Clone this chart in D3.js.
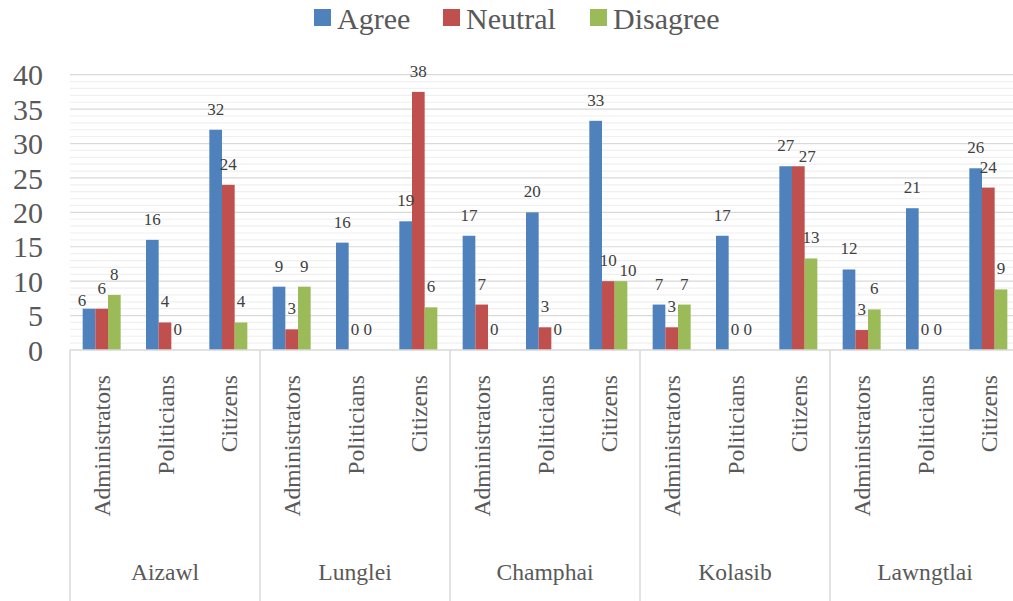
<!DOCTYPE html>
<html>
<head>
<meta charset="utf-8">
<script src="https://cdn.jsdelivr.net/npm/d3@7"></script>
<style>
  html, body { margin: 0; padding: 0; background: #fff; }
  #chart, #chart text { font-family: "Liberation Serif", monospace !important; }
</style>
</head>
<body>
<svg id="chart" width="1013" height="601" font-family="Liberation Serif"></svg>
<script>
// Districts (outer category level) and respondent groups (inner level)
const districts = ["Aizawl", "Lunglei", "Champhai", "Kolasib", "Lawngtlai"];
const respondents = ["Administrators", "Politicians", "Citizens"];
const seriesNames = ["Agree", "Neutral", "Disagree"];
const seriesColors = ["#4f81bd", "#c0504d", "#9bbb59"];

// Values in district order, each district listing Administrators, Politicians, Citizens
const agree    = [6, 16, 32,   9.2, 15.6, 18.7,  16.6, 20, 33.3,  6.6, 16.6, 26.7,  11.7, 20.6, 26.4];
const neutral  = [6, 4, 24,    3, 0, 37.5,       6.6, 3.3, 10,    3.3, 0, 26.7,     2.9, 0, 23.6];
const disagree = [8, 0, 4,     9.2, 0, 6.2,      0, 0, 10,        6.6, 0, 13.3,     5.9, 0, 8.8];

const yTicks = [0, 5, 10, 15, 20, 25, 30, 35, 40];

const FONT = '"Liberation Serif", monospace';

const svg = d3.select("#chart");
const plot = { left: 70, right: 1020, top: 74.7, bottom: 350 };

const y = d3.scaleLinear().domain([0, 40]).range([plot.bottom, plot.top]);
const xDistrict = d3.scaleBand().domain(districts).range([plot.left, plot.right]);
const xResp = d3.scaleBand().domain(respondents).range([0, xDistrict.bandwidth()]);
const slotW = xResp.bandwidth();
const xSeries = d3.scaleBand().domain(seriesNames).range([slotW * 0.2, slotW * 0.8]);

// Minor and major horizontal gridlines
const grid = svg.append("g");
grid.selectAll("line.minor")
  .data(d3.range(0, 41).filter(v => v % 5 !== 0))
  .join("line")
  .attr("class", "minor")
  .attr("x1", plot.left).attr("x2", plot.right)
  .attr("y1", d => y(d)).attr("y2", d => y(d))
  .attr("stroke", "#f0f0f0").attr("stroke-width", 1.2);
grid.selectAll("line.major")
  .data(yTicks.filter(v => v > 0))
  .join("line")
  .attr("class", "major")
  .attr("x1", plot.left).attr("x2", plot.right)
  .attr("y1", d => y(d)).attr("y2", d => y(d))
  .attr("stroke", "#d9d9d9").attr("stroke-width", 1.2);

// Y axis labels
const yAxis = d3.axisLeft(y).tickValues(yTicks).tickSize(0).tickPadding(0);
const yG = svg.append("g").attr("transform", `translate(43,0)`).call(yAxis);
yG.attr("font-family", null).attr("font-size", null);
yG.select(".domain").remove();
yG.selectAll("text")
  .style("font-family", FONT, "important")
  .style("font-size", "30px")
  .attr("fill", "#595959")
  .attr("dy", "0.34em");

// Flatten the data into rows
const valuesBySeries = [agree, neutral, disagree];
const rows = [];
districts.forEach((dist, di) => {
  respondents.forEach((resp, ri) => {
    seriesNames.forEach((s, si) => {
      rows.push({ district: dist, resp, series: s, si, value: valuesBySeries[si][di * respondents.length + ri] });
    });
  });
});

const barX = d => xDistrict(d.district) + xResp(d.resp) + xSeries(d.series);

// Bars
svg.append("g").selectAll("rect")
  .data(rows.filter(d => d.value > 0))
  .join("rect")
  .attr("x", barX)
  .attr("width", xSeries.bandwidth())
  .attr("y", d => y(d.value))
  .attr("height", d => y(0) - y(d.value))
  .attr("fill", d => seriesColors[d.si]);

// Small offsets for labels that sit beside a neighbouring label
const labelNudge = {
  "Aizawl|Administrators|Agree": [-7, 12],
  "Champhai|Citizens|Disagree": [7, 10],
  "Kolasib|Citizens|Neutral": [9, 11]
};

// Value labels above bars
svg.append("g").selectAll("text")
  .data(rows)
  .join("text")
  .attr("x", d => {
    const n = labelNudge[`${d.district}|${d.resp}|${d.series}`] || [0, 0];
    return barX(d) + xSeries.bandwidth() / 2 + n[0];
  })
  .attr("y", d => {
    const n = labelNudge[`${d.district}|${d.resp}|${d.series}`] || [0, 0];
    return y(d.value) - 15 + n[1];
  })
  .attr("text-anchor", "middle")
  .style("font-family", FONT, "important")
  .style("font-size", "17px")
  .attr("fill", "#404040")
  .text(d => d3.format(".0f")(d.value));

// Category axis: baseline and group separators
svg.append("line")
  .attr("x1", plot.left).attr("x2", plot.right)
  .attr("y1", plot.bottom).attr("y2", plot.bottom)
  .attr("stroke", "#d9d9d9").attr("stroke-width", 1.5);
svg.append("g").selectAll("line")
  .data(districts)
  .join("line")
  .attr("x1", d => xDistrict(d)).attr("x2", d => xDistrict(d))
  .attr("y1", plot.bottom).attr("y2", 601)
  .attr("stroke", "#d9d9d9").attr("stroke-width", 1.5);

// Respondent labels (rotated)
const respLabels = [];
districts.forEach(dist => respondents.forEach(resp => respLabels.push({ dist, resp })));
svg.append("g").selectAll("text")
  .data(respLabels)
  .join("text")
  .attr("transform", d => `translate(${xDistrict(d.dist) + xResp(d.resp) + slotW / 2},375) rotate(-90)`)
  .attr("text-anchor", "end")
  .attr("dy", "0.36em")
  .style("font-family", FONT, "important")
  .style("font-size", "23.6px")
  .attr("fill", "#595959")
  .text(d => d.resp);

// District labels
svg.append("g").selectAll("text")
  .data(districts)
  .join("text")
  .attr("x", d => xDistrict(d) + xDistrict.bandwidth() / 2)
  .attr("y", 580)
  .attr("text-anchor", "middle")
  .style("font-family", FONT, "important")
  .style("font-size", "23.6px")
  .attr("fill", "#595959")
  .text(d => d);

// Legend
const legendX = [314, 443, 590];
const legend = svg.append("g");
seriesNames.forEach((s, i) => {
  legend.append("rect")
    .attr("x", legendX[i]).attr("y", 9)
    .attr("width", 17).attr("height", 17)
    .attr("fill", seriesColors[i]);
  legend.append("text")
    .attr("x", legendX[i] + 23).attr("y", 28.5)
    .style("font-family", FONT, "important")
    .style("font-size", "30px")
    .attr("fill", "#595959")
    .text(s);
});
</script>
</body>
</html>
